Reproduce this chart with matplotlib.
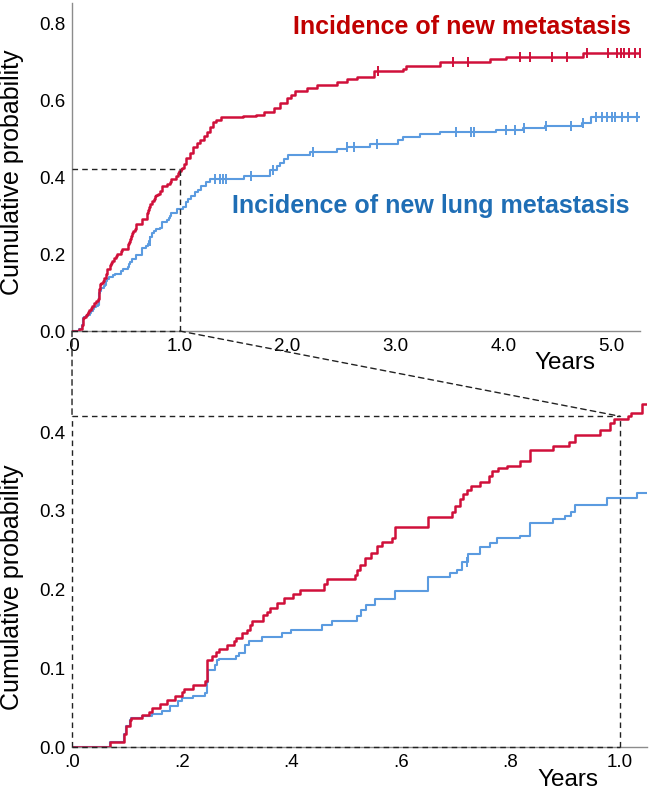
import numpy as np
import matplotlib
matplotlib.use("Agg")
from matplotlib import pyplot as plt
from matplotlib.patches import ConnectionPatch

plt.rcParams['font.family'] = ['Liberation Sans', 'DejaVu Sans']

# step data: time (years) and cumulative probability after the step
red_t = [0, 0.069, 0.095, 0.098, 0.105, 0.108, 0.127, 0.141, 0.146, 0.160, 0.173, 0.188,
         0.200, 0.205, 0.221, 0.243, 0.246, 0.255, 0.263, 0.269, 0.283, 0.295, 0.300, 0.311,
         0.319, 0.325, 0.328, 0.349, 0.355, 0.361, 0.374, 0.386, 0.404, 0.416, 0.459, 0.465,
         0.516, 0.520, 0.526, 0.535, 0.545, 0.556, 0.565, 0.583, 0.589, 0.650, 0.693, 0.699,
         0.708, 0.714, 0.720, 0.727, 0.745, 0.760, 0.766, 0.778, 0.793, 0.818, 0.836, 0.878,
         0.906, 0.918, 0.964, 0.982, 0.988, 1.014, 1.020, 1.04, 1.06, 1.09, 1.12, 1.16, 1.19,
         1.22, 1.25, 1.28, 1.31, 1.34, 1.38, 1.59, 1.71, 1.78, 1.87, 1.93, 1.99, 2.03, 2.07,
         2.18, 2.27, 2.455, 2.55, 2.64, 2.80, 3.07, 3.10, 3.41, 3.88, 4.03, 4.74, 5.27]
red_p = [0, 0.006, 0.016, 0.027, 0.034, 0.037, 0.041, 0.045, 0.050, 0.055, 0.060, 0.065,
         0.070, 0.074, 0.079, 0.084, 0.110, 0.115, 0.121, 0.125, 0.129, 0.135, 0.139, 0.145,
         0.149, 0.155, 0.160, 0.168, 0.172, 0.177, 0.183, 0.189, 0.194, 0.199, 0.207, 0.213,
         0.219, 0.225, 0.231, 0.240, 0.246, 0.255, 0.261, 0.266, 0.279, 0.292, 0.298, 0.306,
         0.315, 0.321, 0.326, 0.331, 0.337, 0.344, 0.350, 0.354, 0.357, 0.363, 0.377, 0.382,
         0.387, 0.396, 0.402, 0.411, 0.416, 0.420, 0.424, 0.435, 0.450, 0.462, 0.478, 0.488,
         0.497, 0.507, 0.518, 0.530, 0.542, 0.549, 0.555, 0.559, 0.562, 0.569, 0.578, 0.592,
         0.606, 0.614, 0.623, 0.630, 0.638, 0.647, 0.654, 0.660, 0.675, 0.680, 0.689, 0.700,
         0.706, 0.711, 0.722, 0.722]
red_censor = [2.84, 3.53, 3.67, 4.16, 4.25, 4.45, 4.59, 4.78, 4.97, 5.06, 5.09, 5.12, 5.17,
              5.22, 5.27]

blue_t = [0, 0.069, 0.095, 0.098, 0.105, 0.108, 0.127, 0.146, 0.164, 0.179, 0.194, 0.200,
          0.220, 0.243, 0.246, 0.248, 0.260, 0.265, 0.269, 0.300, 0.305, 0.316, 0.322, 0.346,
          0.383, 0.400, 0.456, 0.474, 0.520, 0.528, 0.537, 0.553, 0.589, 0.650, 0.690, 0.703,
          0.712, 0.723, 0.745, 0.763, 0.775, 0.818, 0.836, 0.878, 0.900, 0.910, 0.918, 0.976,
          1.03, 1.06, 1.08, 1.10, 1.14, 1.17, 1.20, 1.24, 1.28, 1.60, 1.84, 1.90, 1.93, 1.97,
          2.00, 2.21, 2.455, 2.55, 2.76, 3.02, 3.07, 3.23, 3.41, 3.93, 4.18, 4.39, 4.73, 4.81,
          5.26]
blue_p = [0, 0.006, 0.016, 0.027, 0.034, 0.037, 0.040, 0.042, 0.046, 0.052, 0.058, 0.062,
          0.065, 0.068, 0.083, 0.098, 0.104, 0.110, 0.112, 0.116, 0.120, 0.129, 0.135, 0.140,
          0.145, 0.149, 0.155, 0.160, 0.166, 0.174, 0.180, 0.188, 0.198, 0.216, 0.221, 0.225,
          0.235, 0.245, 0.254, 0.259, 0.265, 0.268, 0.284, 0.289, 0.294, 0.298, 0.307, 0.316,
          0.322, 0.335, 0.342, 0.350, 0.360, 0.367, 0.377, 0.386, 0.396, 0.403, 0.419, 0.428,
          0.436, 0.448, 0.458, 0.465, 0.472, 0.479, 0.485, 0.496, 0.504, 0.511, 0.518, 0.522,
          0.528, 0.533, 0.541, 0.555, 0.555]
blue_censor = [0.72, 1.33, 1.37, 1.40, 1.43, 1.66, 1.86, 2.24, 2.55, 2.62, 2.83, 3.56, 3.70,
               3.73, 4.03, 4.11, 4.19, 4.40, 4.63, 4.74, 4.86, 4.92, 4.96, 5.01, 5.04, 5.10,
               5.16, 5.24]

top_xticks = [0, 1, 2, 3, 4, 5]
top_xlabels = ['.0', '1.0', '2.0', '3.0', '4.0', '5.0']
top_yticks = [0.0, 0.2, 0.4, 0.6, 0.8]
bot_xticks = [0, 0.2, 0.4, 0.6, 0.8, 1.0]
bot_xlabels = ['.0', '.2', '.4', '.6', '.8', '1.0']
bot_yticks = [0.0, 0.1, 0.2, 0.3, 0.4]

zoom_t = 1.0
zoom_p = 0.42

red_line = '#D0103A'
blue_line = '#5B9BE0'
red_text = '#C00000'
blue_text = '#1F6EB5'
spine_col = '#8c8c8c'
dash = (0, (4, 3))


def censor_y(t, p, times):
    idx = np.searchsorted(t, times, side='right') - 1
    return np.array(p)[idx]


def style_axes(ax):
    for s in ['top', 'right']:
        ax.spines[s].set_visible(False)
    for s in ['left', 'bottom']:
        ax.spines[s].set_color(spine_col)
        ax.spines[s].set_linewidth(1.0)
    ax.tick_params(length=0, labelsize=13.5, pad=5)


fig = plt.figure(figsize=(6.5, 7.91), dpi=100)
ax1 = fig.add_axes([0.1108, 0.5815, 0.874, 0.4147])
ax2 = fig.add_axes([0.1108, 0.0556, 0.8846, 0.438])

# top panel
ax1.step(red_t, red_p, where='post', color=red_line, lw=1.8, zorder=3)
ax1.step(blue_t, blue_p, where='post', color=blue_line, lw=1.5, zorder=2)
ax1.plot(red_censor, censor_y(red_t, red_p, red_censor), ls='none', marker='|',
         ms=7, mew=1.4, color=red_line, zorder=3)
ax1.plot(blue_censor, censor_y(blue_t, blue_p, blue_censor), ls='none', marker='|',
         ms=7, mew=1.4, color=blue_line, zorder=2)
ax1.set_xlim(0, 5.27)
ax1.set_ylim(0, 0.852)
ax1.set_xticks(top_xticks)
ax1.set_xticklabels(top_xlabels)
ax1.set_yticks(top_yticks)
ax1.set_yticklabels([f'{v:.1f}' for v in top_yticks])
style_axes(ax1)
ax1.set_ylabel('Cumulative probability', fontsize=18)
ax1.yaxis.set_label_coords(-0.085, 0.485)
ax1.plot([0, zoom_t], [zoom_p, zoom_p], color='#222222', lw=1.0, ls=dash, zorder=4)
ax1.plot([zoom_t, zoom_t], [0, zoom_p], color='#222222', lw=1.0, ls=dash, zorder=4)
ax1.plot([0, zoom_t], [0, 0], color='#222222', lw=1.0, ls=dash, zorder=4, clip_on=False)

ax1.text(0.686, 0.927, 'Incidence of new metastasis', transform=ax1.transAxes,
         ha='center', va='center', fontsize=18, fontweight='bold', color=red_text)
ax1.text(0.632, 0.381, 'Incidence of new lung metastasis', transform=ax1.transAxes,
         ha='center', va='center', fontsize=18, fontweight='bold', color=blue_text)

# bottom panel, first year enlarged
ax2.step(red_t, red_p, where='post', color=red_line, lw=1.8, zorder=3)
ax2.step(blue_t, blue_p, where='post', color=blue_line, lw=1.5, zorder=2)
ax2.plot(blue_censor, censor_y(blue_t, blue_p, blue_censor), ls='none', marker='|',
         ms=7, mew=1.4, color=blue_line, zorder=2)
ax2.set_xlim(0, 1.049)
ax2.set_ylim(0, 0.44)
ax2.set_xticks(bot_xticks)
ax2.set_xticklabels(bot_xlabels)
ax2.set_yticks(bot_yticks)
ax2.set_yticklabels([f'{v:.1f}' for v in bot_yticks])
style_axes(ax2)
ax2.spines['left'].set_visible(False)
ax2.set_ylabel('Cumulative probability', fontsize=18)
ax2.yaxis.set_label_coords(-0.084, 0.462)
for xs, ys in [([0, zoom_t], [zoom_p, zoom_p]), ([zoom_t, zoom_t], [0, zoom_p]),
               ([0, 0], [0, zoom_p]), ([0, zoom_t], [0, 0])]:
    ax2.plot(xs, ys, color='#222222', lw=1.0, ls=dash, zorder=4, clip_on=False)

# connectors between the two panels
for xa, xb in [(0, 0), (zoom_t, zoom_t)]:
    con = ConnectionPatch(xyA=(xa, 0), coordsA=ax1.transData,
                          xyB=(xb, zoom_p), coordsB=ax2.transData,
                          color='#222222', lw=1.0, ls=dash)
    fig.add_artist(con)

fig.text(565 / 650, 1 - 363 / 791, 'Years', ha='center', va='center', fontsize=17.5)
fig.text(568 / 650, 1 - 780 / 791, 'Years', ha='center', va='center', fontsize=17.5)

fig.savefig('out.png', dpi=100)
